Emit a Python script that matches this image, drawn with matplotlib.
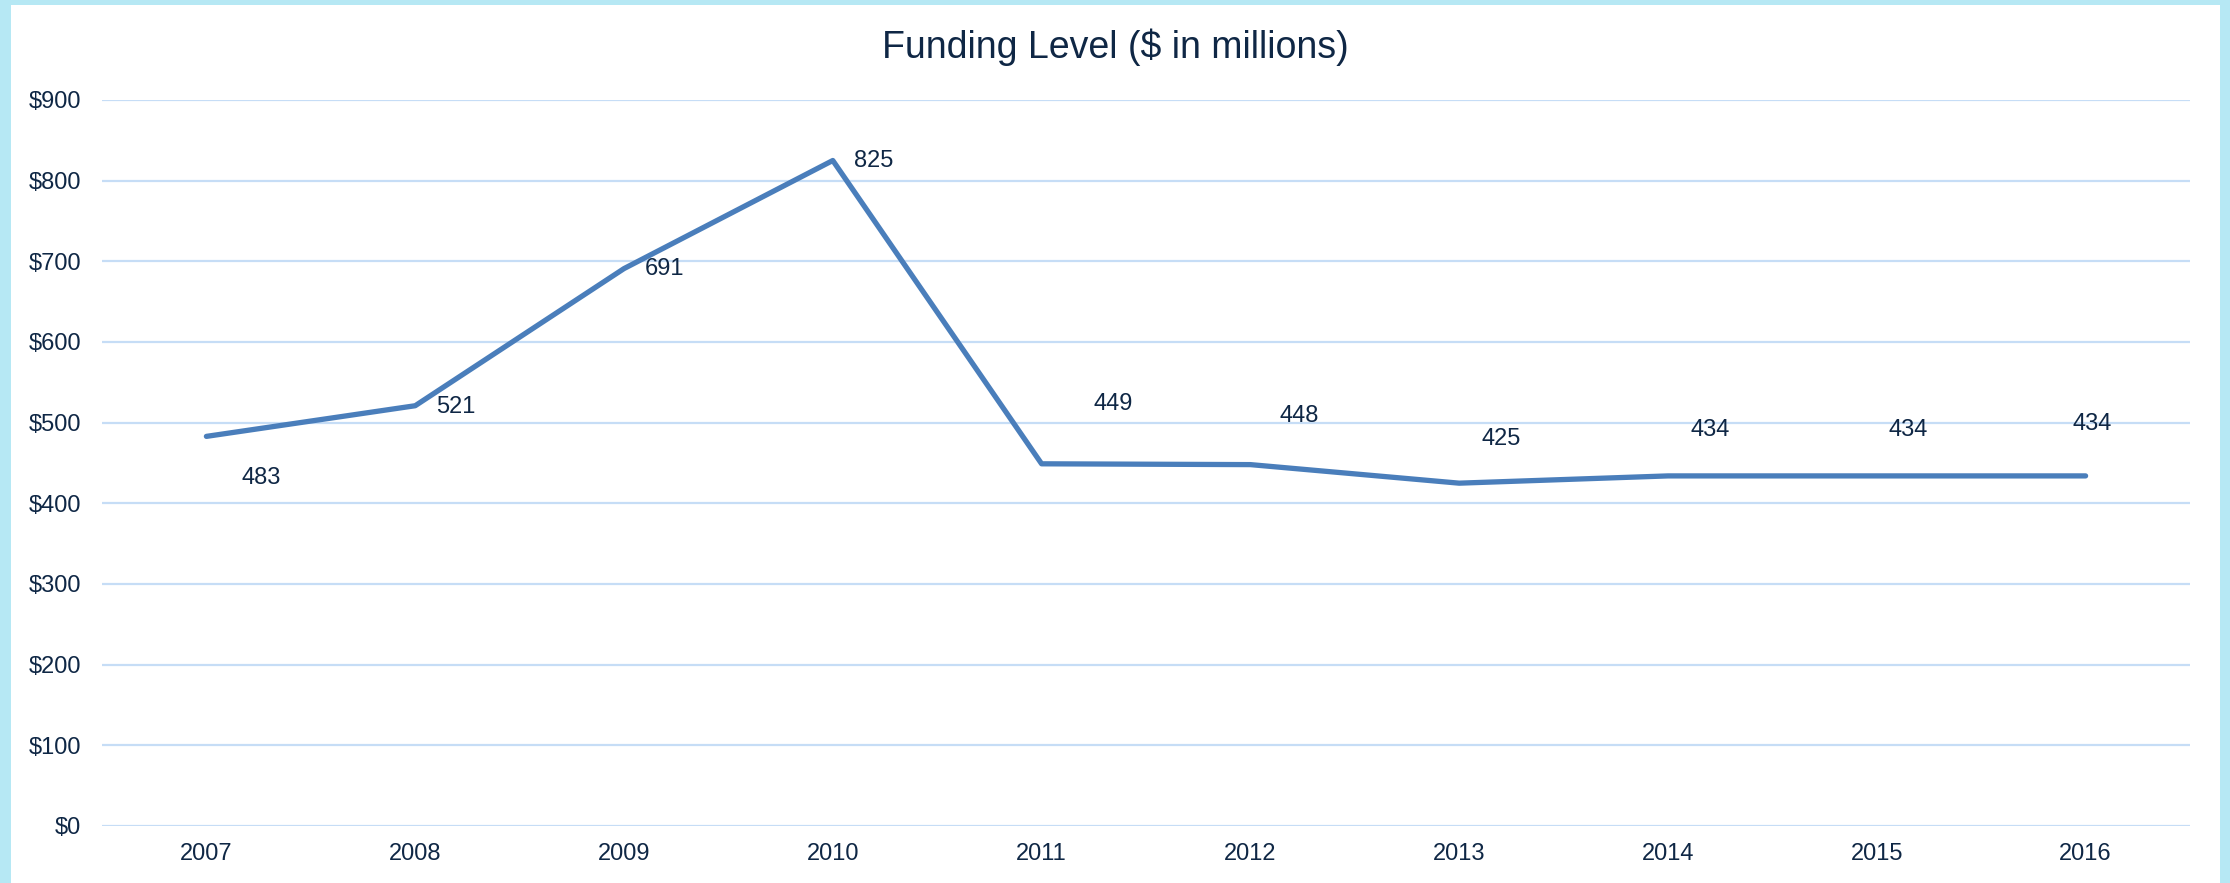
import numpy as np
import matplotlib
matplotlib.use("Agg")
import matplotlib.pyplot as plt
from matplotlib.patches import Rectangle

years = ["2007", "2008", "2009", "2010", "2011", "2012", "2013", "2014", "2015", "2016"]
funding = [483, 521, 691, 825, 449, 448, 425, 434, 434, 434]
y_ticks = [0, 100, 200, 300, 400, 500, 600, 700, 800, 900]

# label offsets in pixels from each point (x right, y up), as placed in the source
label_offsets = [(55, -42), (41, -1), (41, 0), (41, -1), (72, 60),
                 (49, 49), (42, 44), (42, 46), (31, 46), (7, 52)]

plt.rcParams['font.family'] = ['Liberation Sans', 'DejaVu Sans']
text_col = "#0f2745"
line_col = "#4a7ebb"
grid_col = "#c6ddf6"

fig = plt.figure(figsize=(22.3, 8.83), dpi=100)
fig.patch.set_facecolor("#b6e8f4")

# white chart panel behind everything
bg = fig.add_axes([0, 0, 1, 1], zorder=0)
bg.axis("off")
bg.add_patch(Rectangle((11 / 2230, 0), (2220 - 11) / 2230, 1 - 5 / 883,
                       transform=bg.transAxes, facecolor="white", edgecolor="none"))

ax = fig.add_axes([102 / 2230, 1 - 826 / 883, (2190 - 102) / 2230, (826 - 100) / 883],
                  zorder=2)
ax.set_facecolor("none")

x = np.arange(len(years))
ax.plot(x, funding, color=line_col, lw=3.8, solid_joinstyle="round",
        solid_capstyle="round", zorder=3)

for xi, v, (dx, dy) in zip(x, funding, label_offsets):
    ax.annotate(str(v), (xi, v), xytext=(dx, dy), textcoords="offset pixels",
                ha="center", va="center", fontsize=17, color=text_col)

ax.set_xlim(-0.5, len(years) - 0.5)
ax.set_ylim(0, 900)
ax.set_yticks(y_ticks)
ax.set_yticklabels(["$%d" % t for t in y_ticks])
ax.set_xticks(x)
ax.set_xticklabels(years)
ax.grid(axis="y", color=grid_col, lw=1.6)
ax.set_axisbelow(True)
for s in ax.spines.values():
    s.set_visible(False)
ax.tick_params(length=0, labelsize=17, labelcolor=text_col)
ax.tick_params(axis="y", pad=15)
ax.tick_params(axis="x", pad=12)

fig.text(1115 / 2230, 1 - 47 / 883, "Funding Level ($ in millions)", ha="center",
         va="center", fontsize=27, color=text_col, zorder=3)

fig.savefig("out.png", dpi=100, facecolor=fig.get_facecolor())
